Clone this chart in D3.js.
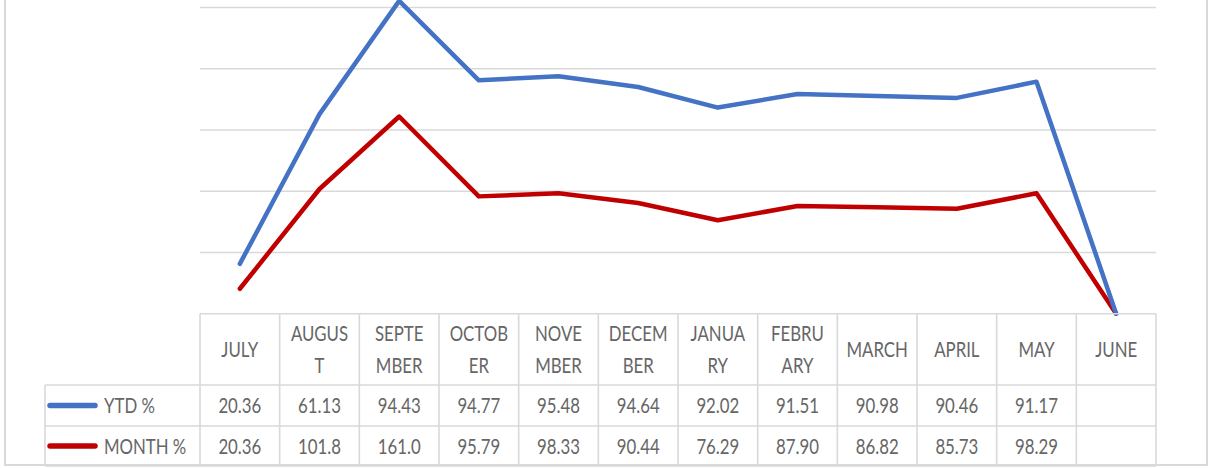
<!DOCTYPE html>
<html>
<head>
<meta charset="utf-8">
<script src="https://cdn.jsdelivr.net/npm/d3@7"></script>
<style>
  html, body { margin: 0; padding: 0; background: #fff; }
  svg { display: block; }
  text { font-family: Lato, "Liberation Sans", sans-serif; fill: #666666; }
</style>
</head>
<body>
<svg id="chart" width="1210" height="468"></svg>
<script>
// ---- data ----
const months = ["JULY","AUGUST","SEPTEMBER","OCTOBER","NOVEMBER","DECEMBER","JANUARY","FEBRUARY","MARCH","APRIL","MAY","JUNE"];
const monthLabels = [["JULY"],["AUGUS","T"],["SEPTE","MBER"],["OCTOB","ER"],["NOVE","MBER"],["DECEM","BER"],["JANUA","RY"],["FEBRU","ARY"],["MARCH"],["APRIL"],["MAY"],["JUNE"]];
const ytd   = [20.36, 61.13, 94.43, 94.77, 95.48, 94.64, 92.02, 91.51, 90.98, 90.46, 91.17, null];
const month = [20.36, 101.8, 161.0, 95.79, 98.33, 90.44, 76.29, 87.90, 86.82, 85.73, 98.29, null];
const seriesNames = ["YTD %", "MONTH %"];
const seriesColors = ["#4472C4", "#C00000"];
const yTicks = [0, 50, 100, 150, 200, 250];

// ---- layout ----
const svg = d3.select("#chart");
const tableLeft = 200, tableRight = 1156;
const legendLeft = 45;
const row0 = 313.7, row1 = 385, row2 = 426, row3 = 466;
const fs = 21, sx = 0.8;

const x = d3.scaleBand().domain(months).range([tableLeft, tableRight]).padding(0);
const y = d3.scaleLinear().domain([0, 250]).range([313.7, 7.5]);

function label(g, tx, ty, t, anchor) {
  return g.append("text")
    .attr("transform", `translate(${tx},${ty}) scale(${sx},1)`)
    .attr("text-anchor", anchor || "middle")
    .attr("dy", "0.36em")
    .attr("font-size", fs)
    .text(t);
}

// outer chart border
svg.append("rect").attr("x", 5).attr("y", -5).attr("width", 1202).attr("height", 470)
  .attr("fill", "none").attr("stroke", "#d9d9d9").attr("stroke-width", 2);

// gridlines
svg.append("g").selectAll("line").data(yTicks.slice(1)).join("line")
  .attr("x1", tableLeft).attr("x2", tableRight)
  .attr("y1", d => y(d)).attr("y2", d => y(d))
  .attr("stroke", "#d9d9d9").attr("stroke-width", 1.6);

// stacked series (Excel stacked line: MONTH at bottom, YTD stacked on top)
const rows = months.map((m, i) => ({ m, month: month[i] ?? 0, ytd: ytd[i] ?? 0 }));
const stacked = d3.stack().keys(["month", "ytd"])(rows);
const line = d3.line()
  .x(d => x(d.data.m) + x.bandwidth() / 2)
  .y(d => y(d[1]));

const colorByKey = { ytd: seriesColors[0], month: seriesColors[1] };
svg.append("g").selectAll("path").data(stacked).join("path")
  .attr("d", line)
  .attr("fill", "none")
  .attr("stroke", d => colorByKey[d.key])
  .attr("stroke-width", 4.5)
  .attr("stroke-linejoin", "round")
  .attr("stroke-linecap", "round");

// ---- data table ----
const grid = svg.append("g").attr("stroke", "#d9d9d9").attr("stroke-width", 1.6).attr("fill", "none");
grid.append("line").attr("x1", tableLeft).attr("x2", tableRight).attr("y1", row0).attr("y2", row0);
[row1, row2, row3].forEach(r =>
  grid.append("line").attr("x1", legendLeft).attr("x2", tableRight).attr("y1", r).attr("y2", r));
const vx = months.map(m => x(m)).concat([x.range()[1]]);
grid.selectAll("line.v").data(vx).join("line").attr("class", "v")
  .attr("x1", d => d).attr("x2", d => d).attr("y1", row0).attr("y2", row3);
grid.append("line").attr("x1", legendLeft).attr("x2", legendLeft).attr("y1", row1).attr("y2", row3);

// header labels
const hdr = svg.append("g");
months.forEach((m, i) => {
  const lines = monthLabels[i];
  const cx = x(m) + x.bandwidth() / 2;
  const cy = (row0 + row1) / 2;
  const lh = 32;
  lines.forEach((t, j) => label(hdr, cx, cy + (j - (lines.length - 1) / 2) * lh, t));
});

// value rows + legend keys
const fmt = d3.format(".4r");
const seriesVals = [ytd, month];
const rowCenters = [(row1 + row2) / 2, (row2 + row3) / 2];
seriesVals.forEach((vals, r) => {
  const g = svg.append("g");
  months.forEach((m, i) => {
    if (vals[i] == null) return;
    label(g, x(m) + x.bandwidth() / 2, rowCenters[r], fmt(vals[i]));
  });
  svg.append("line")
    .attr("x1", 50).attr("x2", 95)
    .attr("y1", rowCenters[r]).attr("y2", rowCenters[r])
    .attr("stroke", seriesColors[r]).attr("stroke-width", 5.5).attr("stroke-linecap", "round");
  label(svg, 104, rowCenters[r], seriesNames[r], "start");
});
</script>
</body>
</html>
